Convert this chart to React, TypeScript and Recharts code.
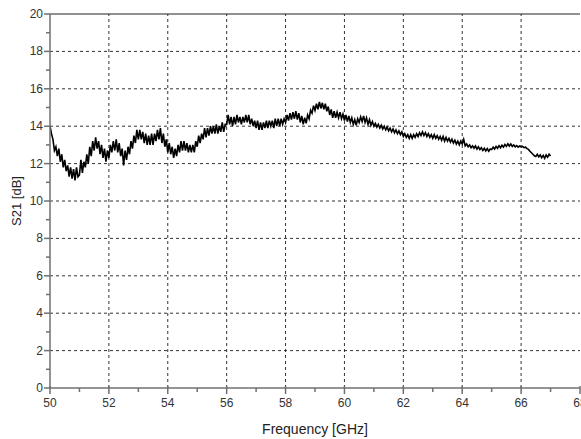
import React from 'react';
import {
  LineChart,
  Line,
  XAxis,
  YAxis,
  ReferenceLine,
} from 'recharts';

const s21Values: number[] = [
  14.0, 13.6, 13.3, 12.7, 12.9, 12.4, 12.8, 12.1, 12.5, 11.8, 12.2, 11.6, 11.9, 11.3, 11.8, 11.2, 11.7, 11.1, 11.8, 11.3,
  11.4, 12.2, 11.5, 12.1, 11.8, 12.5, 12.0, 12.9, 12.4, 13.2, 12.7, 13.4, 12.8, 13.2, 12.5, 13.0, 12.3, 12.8, 12.1, 12.7,
  12.3, 13.0, 12.6, 13.2, 12.7, 13.3, 12.6, 13.1, 12.4, 12.8, 11.9, 12.7, 12.2, 12.9, 12.5, 13.2, 12.8, 13.5, 13.1, 13.8,
  13.3, 13.8, 13.3, 13.7, 13.1, 13.6, 13.0, 13.5, 13.0, 13.6, 13.0, 13.6, 13.2, 13.8, 13.3, 13.9, 13.1, 13.6, 12.9, 13.3,
  12.6, 13.1, 12.5, 12.9, 12.3, 12.8, 12.4, 13.0, 12.6, 13.2, 12.7, 13.2, 12.7, 13.1, 12.6, 13.0, 12.6, 13.0, 12.6, 13.2,
  12.9, 13.5, 13.1, 13.6, 13.3, 13.9, 13.4, 13.9, 13.5, 14.0, 13.6, 14.0, 13.6, 14.1, 13.6, 14.0, 13.7, 14.2, 13.7, 14.1,
  14.1, 14.6, 14.1, 14.5, 14.0, 14.5, 14.1, 14.6, 14.2, 14.5, 14.1, 14.5, 14.2, 14.6, 14.2, 14.6, 14.1, 14.4, 14.0, 14.3,
  13.9, 14.3, 13.8, 14.2, 13.8, 14.2, 13.9, 14.3, 13.9, 14.3, 14.0, 14.3, 13.9, 14.4, 14.0, 14.4, 14.0, 14.4, 14.1, 14.4,
  14.2, 14.6, 14.3, 14.7, 14.35, 14.75, 14.4, 14.8, 14.35, 14.7, 14.2, 14.55, 14.1, 14.45, 14.15, 14.6, 14.4, 14.85, 14.7, 15.1,
  14.85, 15.2, 14.9, 15.3, 14.95, 15.25, 14.9, 15.2, 14.8, 15.05, 14.6, 14.9, 14.45, 14.8, 14.45, 14.75, 14.45, 14.75, 14.4, 14.65,
  14.3, 14.6, 14.25, 14.55, 14.2, 14.45, 14.1, 14.35, 14.05, 14.4, 14.2, 14.5, 14.25, 14.55, 14.2, 14.45, 14.1, 14.35, 14.05, 14.25,
  14.0, 14.15, 13.95, 14.1, 13.9, 14.05, 13.85, 14.0, 13.8, 13.95, 13.75, 13.9, 13.7, 13.85, 13.65, 13.8, 13.6, 13.75, 13.55, 13.7,
  13.45, 13.6, 13.4, 13.55, 13.35, 13.55, 13.35, 13.55, 13.4, 13.6, 13.45, 13.65, 13.5, 13.7, 13.5, 13.65, 13.45, 13.6, 13.4, 13.55,
  13.35, 13.55, 13.35, 13.5, 13.3, 13.45, 13.25, 13.45, 13.2, 13.4, 13.2, 13.35, 13.15, 13.3, 13.1, 13.25, 13.05, 13.2, 13.0, 13.2,
  13.05, 13.3, 12.95, 13.05, 12.9, 13.0, 12.85, 12.95, 12.82, 12.95, 12.78, 12.9, 12.75, 12.85, 12.7, 12.82, 12.68, 12.8, 12.66, 12.78,
  12.75, 12.88, 12.78, 12.92, 12.82, 12.96, 12.85, 12.98, 12.88, 13.02, 12.92, 13.06, 12.94, 13.05, 12.92, 13.0, 12.9, 12.96, 12.88, 12.94,
  12.9, 12.92, 12.86, 12.88, 12.8, 12.76, 12.66, 12.58, 12.5, 12.42, 12.38, 12.5, 12.36, 12.46, 12.32, 12.44, 12.28, 12.46, 12.34, 12.5,
  12.4,
];

const freqStart = 50;
const freqStep = 0.05;

const xTicks = [50, 51, 52, 53, 54, 55, 56, 57, 58, 59, 60, 61, 62, 63, 64, 65, 66, 67, 68];
const yTicks = [0, 1, 2, 3, 4, 5, 6, 7, 8, 9, 10, 11, 12, 13, 14, 15, 16, 17, 18, 19, 20];
const xGrid = [52, 54, 56, 58, 60, 62, 64, 66];
const yGrid = [2, 4, 6, 8, 10, 12, 14, 16, 18];

const data = s21Values.map((v, i) => ({
  freq: Number((freqStart + i * freqStep).toFixed(2)),
  s21: v,
}));

const FONT = '"Liberation Sans", Arial, sans-serif';
const AXIS = '#707070';

function XTick(props: any) {
  const { x, y, payload } = props;
  const major = payload.value % 2 === 0;
  return (
    <g>
      <line
        x1={x}
        x2={x}
        y1={major ? y - 2 : y}
        y2={major ? y + 6 : y + 4}
        stroke={AXIS}
        strokeWidth={1.5}
      />
      {major && (
        <text x={x} y={y + 19} textAnchor="middle" fontSize={12} fill="#333" fontFamily={FONT}>
          {payload.value}
        </text>
      )}
    </g>
  );
}

function YTick(props: any) {
  const { x, y, payload } = props;
  const major = payload.value % 2 === 0;
  return (
    <g>
      <line x1={major ? x - 6 : x - 4} x2={x} y1={y} y2={y} stroke={AXIS} strokeWidth={1.5} />
      {major && (
        <text x={x - 7} y={y + 4} textAnchor="end" fontSize={12} fill="#333" fontFamily={FONT}>
          {payload.value}
        </text>
      )}
    </g>
  );
}

export default function App() {
  return (
    <div style={{ position: 'relative', width: 581, height: 439, background: '#fff' }}>
      <style>{'body{margin:0}'}</style>
      <LineChart
        width={581}
        height={439}
        data={data}
        margin={{ top: 14, right: 1, bottom: 0, left: 0 }}
      >
        {xGrid.map((g) => (
          <ReferenceLine key={'vx' + g} x={g} stroke="#333" strokeDasharray="3 3" strokeWidth={1} />
        ))}
        {yGrid.map((g) => (
          <ReferenceLine key={'hy' + g} y={g} stroke="#333" strokeDasharray="3 3" strokeWidth={1} />
        ))}
        <ReferenceLine y={20} stroke="#222" strokeWidth={1.2} />
        <XAxis
          dataKey="freq"
          type="number"
          domain={[50, 68]}
          ticks={xTicks}
          interval={0}
          height={51}
          tickSize={0}
          tickMargin={0}
          tick={<XTick />}
          axisLine={{ stroke: AXIS, strokeWidth: 1.5 }}
          allowDataOverflow
          label={{
            value: 'Frequency [GHz]',
            position: 'insideBottom',
            offset: 5,
            fontSize: 14,
            fill: '#222',
            fontFamily: FONT,
          }}
        />
        <YAxis
          type="number"
          domain={[0, 20]}
          ticks={yTicks}
          interval={0}
          width={50}
          tickSize={0}
          tickMargin={0}
          tick={<YTick />}
          axisLine={{ stroke: AXIS, strokeWidth: 1.5 }}
          label={{
            value: 'S21 [dB]',
            angle: -90,
            position: 'insideLeft',
            offset: 16,
            fontSize: 13,
            fill: '#222',
            fontFamily: FONT,
            style: { textAnchor: 'middle' },
          }}
        />
        <Line
          type="linear"
          dataKey="s21"
          stroke="#000"
          strokeWidth={1.6}
          dot={false}
          isAnimationActive={false}
        />
      </LineChart>
    </div>
  );
}
